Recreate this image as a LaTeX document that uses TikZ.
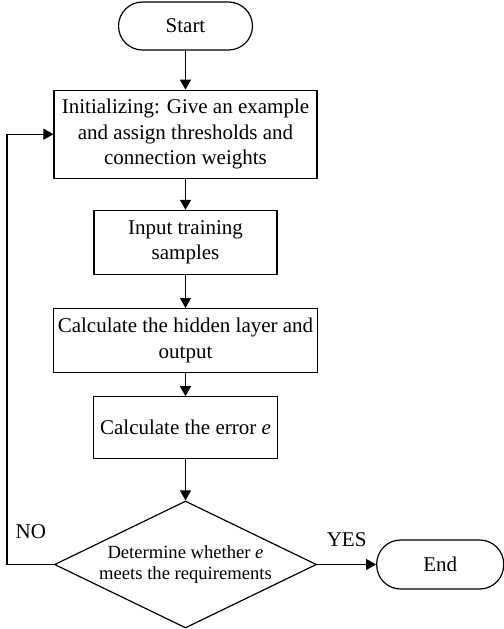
\documentclass[tikz,border=0pt]{standalone}
\usepackage{fontspec}
\setmainfont{Liberation Serif}
\usepackage{tikz}
\usetikzlibrary{arrows.meta,positioning,shapes.geometric,calc}
\newcommand{\flowfont}{\fontsize{10.5}{12.75}\selectfont}
\newcommand{\askfont}{\fontsize{9.3}{10.8}\selectfont}

\begin{document}
\begin{tikzpicture}[font=\flowfont,line width=0.6pt,>={Triangle[width=5.5pt,length=5pt]}]
    \tikzset{term/.style={draw,rounded corners=12pt,minimum width=67pt,minimum height=24pt,inner sep=2pt},
      proc/.style={draw,align=center,minimum height=32pt,inner sep=2pt},
      decide/.style={draw,diamond,aspect=2.06,align=center,minimum width=131pt,minimum height=63.5pt,inner sep=0pt,font=\askfont},
      lbl/.style={inner sep=0pt},
      flow/.style={->}}
    \path[use as bounding box] (0,0) rectangle (252pt,-314.5pt);
    \node[term] (start) at (92.75pt,-13pt) {Start};
    \node[proc,below=19.5pt of start,minimum width=131.5pt,minimum height=44pt] (init) {Initializing: Give an example\\ and assign thresholds and\\ connection weights};
    \node[proc,below=15.5pt of init,minimum width=91.5pt] (input) {Input training\\ samples};
    \node[proc,below=16.5pt of input,minimum width=131.5pt] (hidden) {Calculate the hidden layer and\\ output};
    \node[proc,below=11.5pt of hidden,minimum width=92pt,minimum height=31pt] (error) {Calculate the error \textit{e}};
    \node[decide,below=20.5pt of error] (check) {Determine whether \textit{e}\\ meets the requirements};
    \node[term,right=29.5pt of check,minimum width=63.5pt,minimum height=24.5pt] (end) {End};
    \coordinate (back) at (3.5pt,0);
    \draw[flow] (start) -- (init);
    \draw[flow] (init) -- (input);
    \draw[flow] (input) -- (hidden);
    \draw[flow] (hidden) -- (error);
    \draw[flow] (error) -- (check);
    \draw[flow] (check) -- (end) node[lbl,midway,above=8.5pt] (yes) {YES};
    \draw[flow] (check.west) -- (check.west -| back) |- (init.west);
    \node[lbl,anchor=base west] (no) at ($(check.west -| back)+(4pt,13pt)$) {NO};
  \end{tikzpicture}
\end{document}
